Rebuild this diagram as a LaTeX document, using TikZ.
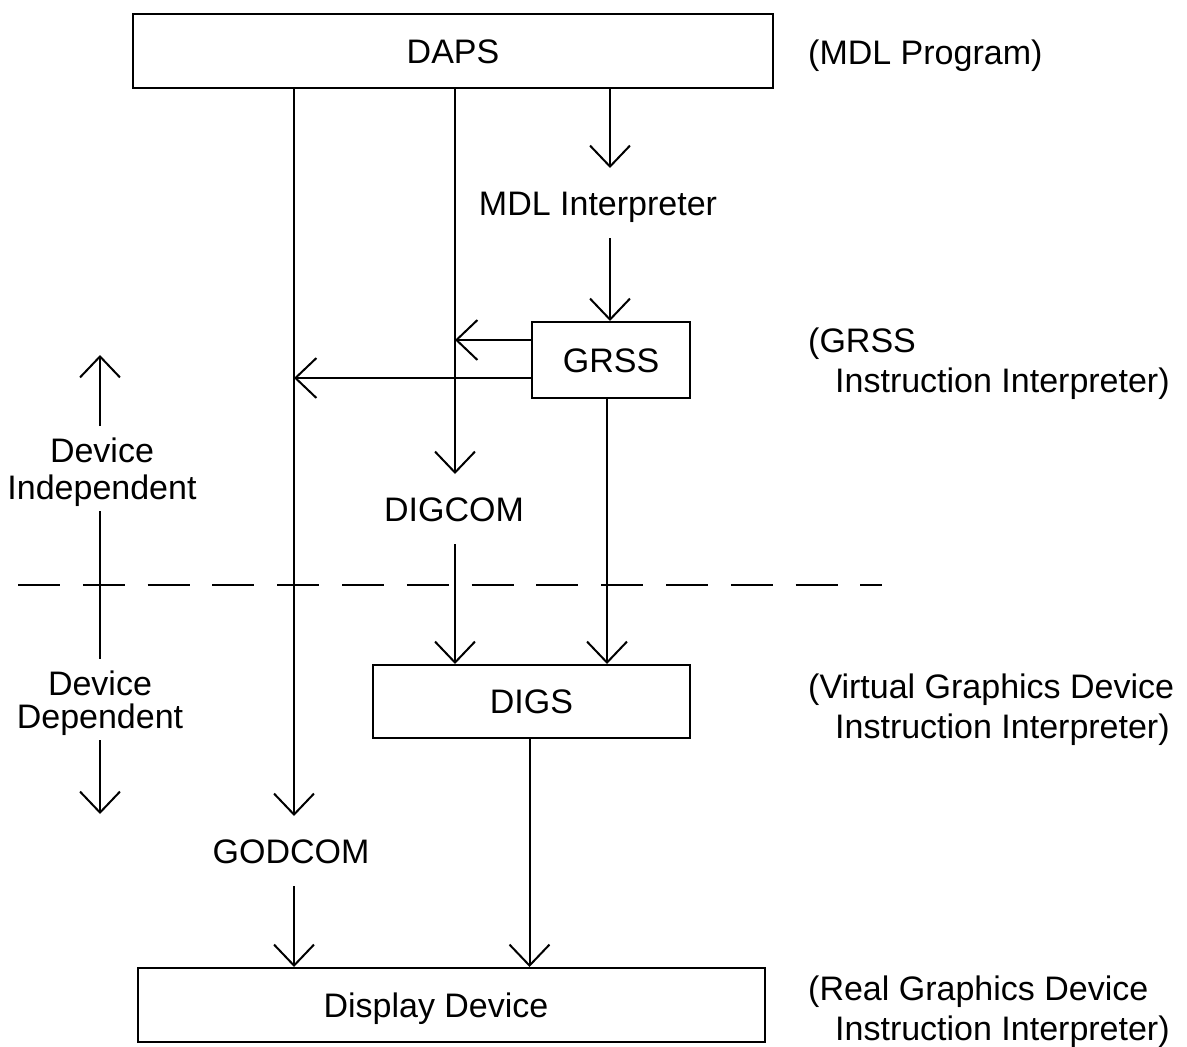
\documentclass[tikz,border=0pt]{standalone}
\usepackage{fontspec}
\setmainfont{Liberation Sans}
\usetikzlibrary{arrows.meta}
\begin{document}
\begin{tikzpicture}[x=1pt,y=-1pt,
  every node/.style={font=\fontsize{34}{40}\selectfont},
  box/.style={draw, line width=2pt, inner sep=0pt, text height=24pt, text depth=0pt},
  lbl/.style={inner sep=0pt, text height=24pt, text depth=0pt},
  stage/.style={lbl, outer ysep=23pt},
  side/.style={lbl, outer ysep=12pt},
  flow/.style={line width=2pt, -{Straight Barb[length=21pt,width=40pt,line width=2pt]}},
  plain/.style={line width=2pt},
  divider/.style={line width=2pt, dash pattern=on 42pt off 22.8pt},
]
\useasboundingbox (0,0) rectangle (1187,1047);

% boxes
\node[box, minimum width=640pt, minimum height=74pt] (daps) at (453,51) {DAPS};
\node[box, minimum width=158pt, minimum height=76pt] (grss) at (611,360) {GRSS};
\node[box, minimum width=317pt, minimum height=73pt] (digs) at (531.5,701.5) {DIGS};
\node[box, minimum width=627pt, minimum height=74pt] (disp) at (451.5,1005) {};
\node[lbl] (disptext) at (436,1005) {Display Device};

% intermediate stages
\node[stage] (mdl) at (598,203) {MDL Interpreter};
\node[stage] (digcom) at (454,509) {DIGCOM};
\node[stage] (godcom) at (291,851) {GODCOM};

% vertical lanes
\coordinate (la) at (294,0);
\coordinate (lb) at (455,0);
\coordinate (lc) at (610,0);

% flow connectors
\draw[flow] (daps.south -| la) -- (la |- godcom.north);
\draw[flow] (daps.south -| lb) -- (lb |- digcom.north);
\draw[flow] (daps.south -| lc) -- (lc |- mdl.north);
\draw[flow] (mdl.south -| lc) -- (lc |- grss.north);
\draw[flow] ([yshift=20pt]grss.west) -- ([yshift=20pt]grss.west -| lb);
\draw[flow] ([yshift=-18pt]grss.west) -- ([yshift=-18pt]grss.west -| la);
\draw[flow] ([xshift=-4pt]grss.south) -- ([xshift=-4pt]grss.south |- digs.north);
\draw[flow] (digcom.south -| lb) -- (lb |- digs.north);
\draw[flow] ([xshift=-2pt]digs.south) -- ([xshift=-2pt]digs.south |- disp.north);
\draw[flow] (godcom.south -| la) -- (la |- disp.north);

% device independence scale on the left
\node[side] (indepA) at (102,450) {Device};
\node[side] (indepB) at (102,487) {Independent};
\node[side] (depA) at (100,683) {Device};
\node[side] (depB) at (100,716) {Dependent};
\coordinate (uptip) at (100,355);
\coordinate (downtip) at (100,814);
\draw[flow] (indepA.north -| uptip) -- (uptip);
\draw[plain] (indepB.south -| uptip) -- (depA.north -| uptip);
\draw[flow] (depB.south -| downtip) -- (downtip);

% boundary between the two levels
\coordinate (divL) at (18,585);
\coordinate (divR) at (882,585);
\draw[divider] (divL) -- (divR);

% level descriptions on the right
\node[lbl, anchor=west] (mdlprog) at (808,52) {(MDL Program)};
\node[lbl, anchor=west] (grssA) at (808,340) {(GRSS};
\node[lbl, anchor=west] (grssB) at (835,380) {Instruction Interpreter)};
\node[lbl, anchor=west] (vgdA) at (808,686) {(Virtual Graphics Device};
\node[lbl, anchor=west] (vgdB) at (835,726) {Instruction Interpreter)};
\node[lbl, anchor=west] (rgdA) at (808,988) {(Real Graphics Device};
\node[lbl, anchor=west] (rgdB) at (835,1028) {Instruction Interpreter)};
\end{tikzpicture}
\end{document}
